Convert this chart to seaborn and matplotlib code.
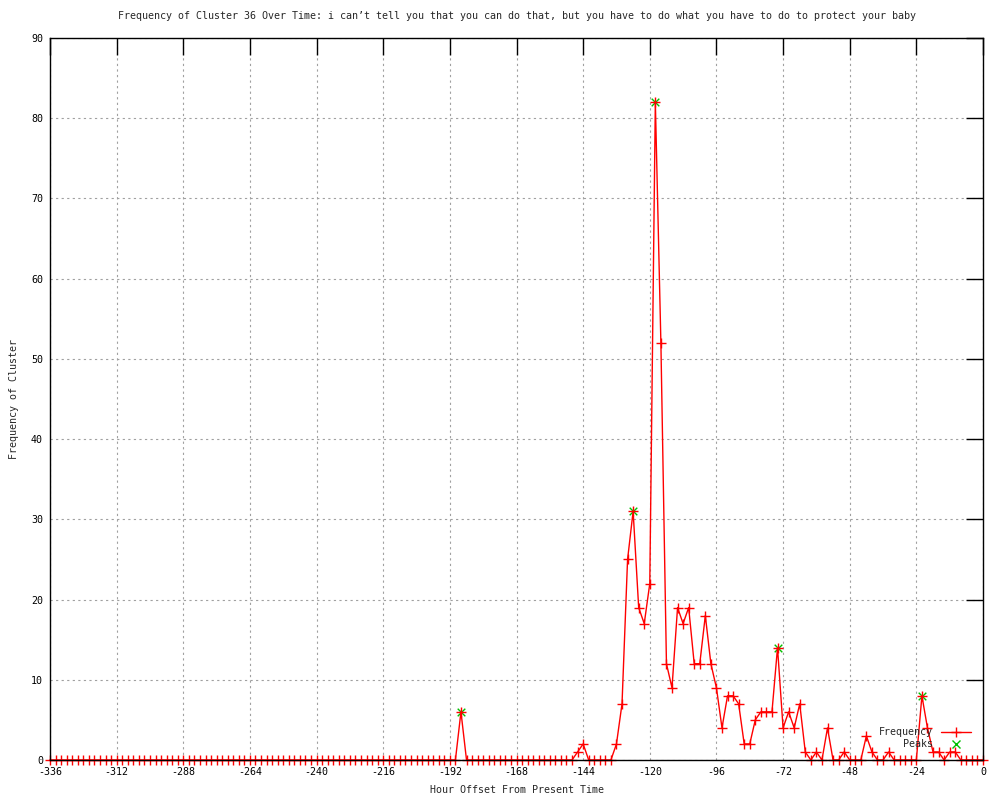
import numpy as np
import pandas as pd
import matplotlib
matplotlib.use("Agg")
import matplotlib.pyplot as plt
import seaborn as sns
from matplotlib.lines import Line2D

# ---- data (2-hour bins, hours -336 .. 0) ----
hours = list(range(-336, 1, 2))
nonzero = {
    -188: 6, -146: 1, -144: 2, -132: 2, -130: 7, -128: 25, -126: 31,
    -124: 19, -122: 17, -120: 22, -118: 82, -116: 52, -114: 12, -112: 9,
    -110: 19, -108: 17, -106: 19, -104: 12, -102: 12, -100: 18, -98: 12,
    -96: 9, -94: 4, -92: 8, -90: 8, -88: 7, -86: 2, -84: 2, -82: 5,
    -80: 6, -78: 6, -76: 6, -74: 14, -72: 4, -70: 6, -68: 4, -66: 7,
    -64: 1, -60: 1, -56: 4, -50: 1, -42: 3, -40: 1, -34: 1, -22: 8,
    -20: 4, -18: 1, -16: 1, -12: 1, -10: 1,
}
frequency = [nonzero.get(h, 0) for h in hours]
peak_hours = [-188, -126, -118, -74, -22]
peak_values = [6, 31, 82, 14, 8]
x_ticks = list(range(-336, 1, 24))
y_ticks = list(range(0, 91, 10))

title = ("Frequency of Cluster 36 Over Time: i can\u2019t tell you that you can do that, "
         "but you have to do what you have to do to protect your baby")

sns.set_theme(style="white")
plt.rcParams['font.family'] = ['DejaVu Sans Mono', 'DejaVu Sans']
plt.rcParams['font.size'] = 7.2

fig = plt.figure(figsize=(10, 8), dpi=100)
ax = fig.add_axes([0.05, 0.05, 0.933, 0.9025])

df = pd.DataFrame({"hour": hours, "freq": frequency})
pk = pd.DataFrame({"hour": peak_hours, "freq": peak_values})

sns.scatterplot(data=pk, x="hour", y="freq", marker="x", color="#00c000",
                s=30, linewidth=1.0, ax=ax, zorder=3)
sns.lineplot(data=df, x="hour", y="freq", color="red", linewidth=1.0,
             marker="+", markersize=6.5, markeredgewidth=1.0,
             markeredgecolor="red", ax=ax, zorder=4, clip_on=False)

ax.set_xlim(-336, 0)
ax.set_ylim(0, 90)
ax.set_xticks(x_ticks)
ax.set_yticks(y_ticks)
ax.set_xticklabels([str(t) for t in x_ticks])
ax.grid(True, color="#a0a0a0", linestyle=(0, (2, 3)), linewidth=0.8)
ax.tick_params(direction="in", length=12, width=1, top=True, right=True,
               colors="black", labelsize=7.2, pad=5)
for sp in ax.spines.values():
    sp.set_color("black")
    sp.set_linewidth(1.0)
    sp.set_zorder(5)

ax.set_title(title, fontsize=7.2, pad=14)
ax.set_xlabel("Hour Offset From Present Time", fontsize=7.2, labelpad=6)
ax.set_ylabel("Frequency of Cluster", fontsize=7.2, labelpad=9)

handles = [
    Line2D([0], [0], color="red", linewidth=1.0, marker="+", markersize=6.5,
           markeredgewidth=1.0),
    Line2D([0], [0], color="#00c000", linestyle="none", marker="x",
           markersize=5.5, markeredgewidth=1.0),
]
ax.legend(handles, ["Frequency", "Peaks"], loc="lower right",
          bbox_to_anchor=(0.995, 0.005), frameon=False, markerfirst=False,
          handlelength=3.0, labelspacing=0.2, handletextpad=0.8,
          fontsize=7.2, borderpad=0.2)

fig.savefig("out.png", dpi=100)
